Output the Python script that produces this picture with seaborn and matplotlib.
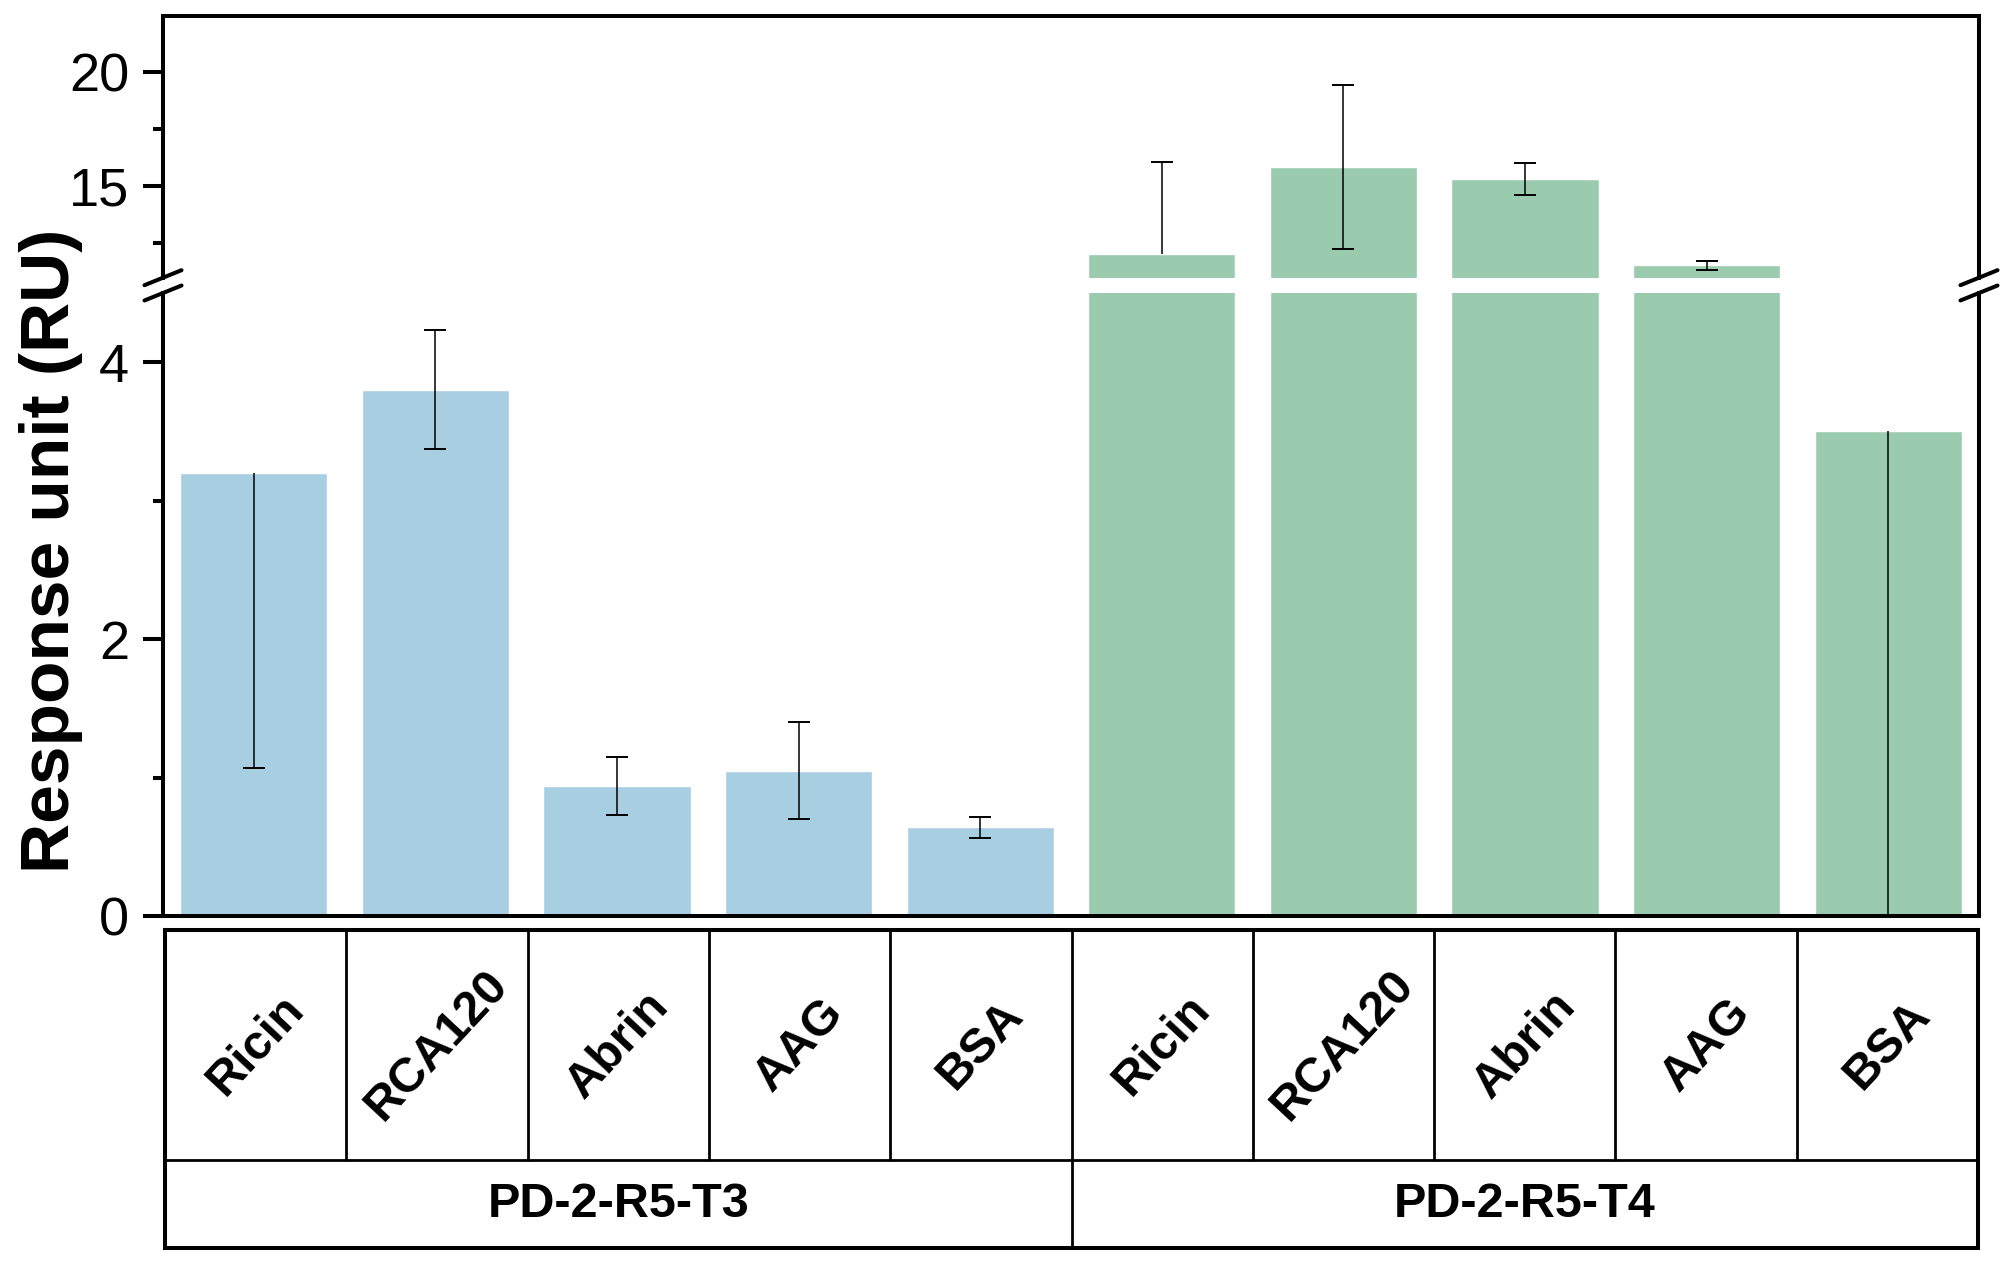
import numpy as np
import pandas as pd
import matplotlib
matplotlib.use('Agg')
import matplotlib.pyplot as plt
import seaborn as sns
from matplotlib.ticker import MultipleLocator

# values
categories = ['Ricin', 'RCA120', 'Abrin', 'AAG', 'BSA']
groups = ['PD-2-R5-T3', 'PD-2-R5-T4']
t3_values = [3.20, 3.80, 0.94, 1.05, 0.64]
t3_errors = [2.13, 0.43, 0.21, 0.35, 0.075]
t4_values = [12.05, 15.85, 15.30, 11.55, 3.50]
t4_errors = [4.00, 3.58, 0.70, 0.20, 3.50]
group_colors = ['#A8CEE2', '#9ACBAE']

df = pd.DataFrame({
    'key': [g + ' ' + c for g in groups for c in categories],
    'category': categories * 2,
    'group': [g for g in groups for _ in categories],
    'value': t3_values + t4_values,
    'error': t3_errors + t4_errors,
})

sns.set_style('ticks')
plt.rcParams['font.family'] = ['Liberation Sans', 'DejaVu Sans']
plt.rcParams.update({'text.color': 'black', 'axes.labelcolor': 'black',
                     'xtick.color': 'black', 'ytick.color': 'black'})

fig = plt.figure(figsize=(20.01, 12.69), dpi=100)
ax_top = fig.add_axes([0.08146, 0.78117, 0.90754, 0.20622])
ax_bot = fig.add_axes([0.08146, 0.27817, 0.90754, 0.49094])
ax_tab = fig.add_axes([0.08246, 0.01655, 0.90605, 0.25059])

ax_top.set_ylim(11, 22.44)
ax_bot.set_ylim(0, 4.5)

spine_lw = 2.9
for ax in [ax_top, ax_bot]:
    lo_lim, hi_lim = ax.get_ylim()
    sns.barplot(data=df, x='key', y='value', hue='group', order=list(df['key']),
                palette=group_colors, dodge=False, width=0.81, saturation=1,
                errorbar=None, legend=False, ax=ax)
    ax.set_ylim(lo_lim, hi_lim)
    # error bars: each half is drawn only when its end lies inside this segment
    for i, (v, e) in enumerate(zip(df['value'], df['error'])):
        if lo_lim <= v <= hi_lim and v + e <= hi_lim:
            ax.vlines(i, v, v + e, color='black', lw=1.1, zorder=5)
            ax.plot(i, v + e, marker='_', markersize=16, mew=1.4, color='black', zorder=5)
        if v - e >= lo_lim and v - e <= hi_lim:
            ax.vlines(i, v - e, min(v, hi_lim), color='black', lw=1.1, zorder=5)
            ax.plot(i, v - e, marker='_', markersize=16, mew=1.4, color='black', zorder=5,
                    clip_on=False)
    ax.set_xlim(-0.5, len(df) - 0.5)
    ax.set_xlabel('')
    ax.set_ylabel('')
    ax.tick_params(axis='x', bottom=False, labelbottom=False)
    ax.tick_params(axis='y', which='major', length=14.4, width=spine_lw, labelsize=39, pad=10, direction='out')
    ax.tick_params(axis='y', which='minor', length=7.2, width=spine_lw, direction='out')
    for s in ax.spines.values():
        s.set_linewidth(spine_lw)
        s.set_color('black')
        s.set_zorder(6)

ax_top.yaxis.set_major_locator(MultipleLocator(5))
ax_top.yaxis.set_minor_locator(MultipleLocator(2.5))
ax_top.spines['bottom'].set_visible(False)

ax_bot.yaxis.set_major_locator(MultipleLocator(2))
ax_bot.yaxis.set_minor_locator(MultipleLocator(1))
ax_bot.spines['top'].set_visible(False)

# break marks
dx = 0.0102
dy_top = 0.0287
dy_bot = 0.0120
kw = dict(color='black', lw=spine_lw, clip_on=False)
for x0 in [0, 1]:
    ax_top.plot([x0 - dx, x0 + dx], [-dy_top, dy_top], transform=ax_top.transAxes, **kw)
    ax_bot.plot([x0 - dx, x0 + dx], [1 - dy_bot, 1 + dy_bot], transform=ax_bot.transAxes, **kw)

fig.text(51 / 2001, 1 - 551 / 1269, 'Response unit (RU)', rotation=90, fontsize=50,
         fontweight='bold', ha='center', va='center')

# category table below the bars
row_split = 0.2767
ax_tab.set_xlim(-0.5, len(df) - 0.5)
ax_tab.set_ylim(0, 1)
ax_tab.set_xticks([])
ax_tab.set_yticks([])
for s in ax_tab.spines.values():
    s.set_linewidth(spine_lw)
    s.set_color('black')
ax_tab.axhline(row_split, color='black', lw=2.0)
for i in range(len(df) - 1):
    if i == len(categories) - 1:
        ax_tab.axvline(i + 0.5, color='black', lw=2.0)
    else:
        ax_tab.axvline(i + 0.5, ymin=row_split, ymax=1, color='black', lw=2.0)
for i, c in enumerate(df['category']):
    ax_tab.text(i, (row_split + 1) / 2, c, rotation=47, fontsize=35, fontweight='bold',
                ha='center', va='center', rotation_mode='anchor')
for j, g in enumerate(groups):
    ax_tab.text(j * len(categories) + (len(categories) - 1) / 2, row_split / 2, g,
                fontsize=35, fontweight='bold', ha='center', va='center')

fig.savefig('out.png', dpi=100)
